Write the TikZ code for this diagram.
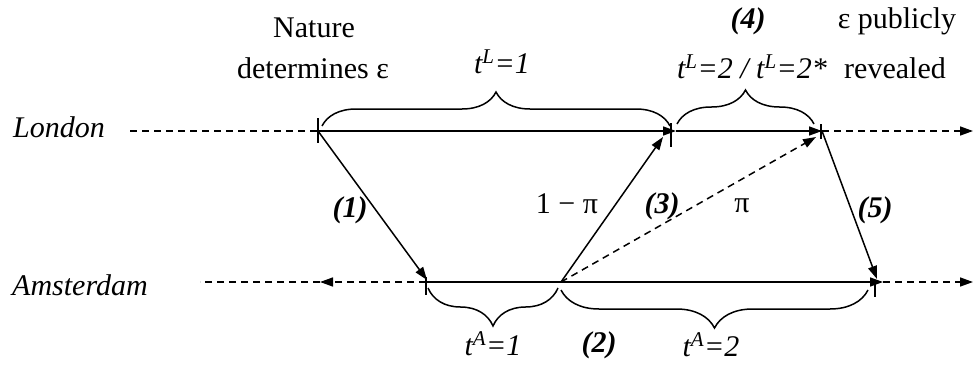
\documentclass[tikz,border=0pt]{standalone}
\usepackage{fontspec}
\setmainfont{Liberation Serif}
\usetikzlibrary{arrows.meta,decorations.pathreplacing}
\newcommand\fsz{\fontsize{30}{35}\selectfont}
\begin{document}
\begin{tikzpicture}[x=1pt,y=-1pt,
  lbl/.style={font=\fsz, inner sep=0pt, anchor=base},
  tl/.style={line width=1.5pt},
  dsh/.style={line width=1.5pt, dash pattern=on 7pt off 5pt},
  arr/.style={-{Triangle[length=13pt,width=9pt]}},
  brc/.style={decorate, decoration={brace, amplitude=#1}, line width=1.5pt}
]
\useasboundingbox (0,0) rectangle (976,364);
% timeline points
\coordinate (L0) at (130,131);
\coordinate (L1) at (318,131);
\coordinate (L2) at (676,131);
\coordinate (L3) at (822,131);
\coordinate (L4) at (973,131);
\coordinate (A0) at (200,282);
\coordinate (Am) at (320,282);
\coordinate (A1) at (426,282);
\coordinate (A2) at (561,282);
\coordinate (A3) at (883,282);
\coordinate (A4) at (973,282);
% arrow ends of diagonals
\coordinate (d1) at (427,280);
\coordinate (d2) at (663,137);
\coordinate (d3) at (816,137);
\coordinate (d5) at (877,279);
% London line
\draw[dsh] (L0) -- (L1);
\draw[tl,arr] (L1) -- (L2);
\draw[tl,arr] (L2) -- (L3);
\draw[dsh,arr] (L3) -- (L4);
% Amsterdam line
\draw[dsh,arr] (A1) -- (Am);
\draw[dsh] (Am) -- (A0);
\draw[tl,arr] (A1) -- (A3);
\draw[dsh,arr] (A3) -- (A4);
% ticks
\draw[tl] (318,118) -- (318,143);
\draw[tl] (671,123) -- (671,147);
\draw[tl] (821,124) -- (821,139);
\draw[tl] (426,277) -- (426,295);
\draw[tl] (875,280) -- (875,297);
% diagonals
\draw[tl,arr] (L1) -- (d1);
\draw[tl,arr] (A2) -- (d2);
\draw[dsh,arr] (A2) -- (d3);
\draw[tl,arr] (L3) -- (d5);
% braces
\draw[brc=34] (322,126) -- (670,126);
\draw[brc=34] (677,124) -- (814,124);
\draw[brc=38] (558,288) -- (428,288);
\draw[brc=38] (868,290) -- (561,290);
% labels
\node[lbl,anchor=base west] (london) at (13,137) {\itshape London};
\node[lbl,anchor=base west] (amst) at (12,295) {\itshape Amsterdam};
\node[lbl] (nat1) at (314,37) {Nature};
\node[lbl] (nat2) at (313,78) {determines ε};
\node[lbl] (pub1) at (897,28) {ε publicly};
\node[lbl] (pub2) at (895,78) {revealed};
\node[lbl] (tl1) at (502,73) {\itshape t\textsuperscript{L}=1};
\node[lbl] (tl2) at (752,78) {\itshape t\textsuperscript{L}=2 / t\textsuperscript{L}=2*};
\node[lbl] (n4) at (748,28) {\bfseries\itshape (4)};
\node[lbl] (n1) at (350,217) {\bfseries\itshape (1)};
\node[lbl] (n3) at (662,213) {\bfseries\itshape (3)};
\node[lbl] (n5) at (875,217) {\bfseries\itshape (5)};
\node[lbl] (n2) at (599,352) {\bfseries\itshape (2)};
\node[lbl] (omp) at (567,213) {1 − π};
\node[lbl] (pi) at (742,212) {π};
\node[lbl] (ta1) at (493,355) {\itshape t\textsuperscript{A}=1};
\node[lbl] (ta2) at (711,356) {\itshape t\textsuperscript{A}=2};
\end{tikzpicture}
\end{document}
